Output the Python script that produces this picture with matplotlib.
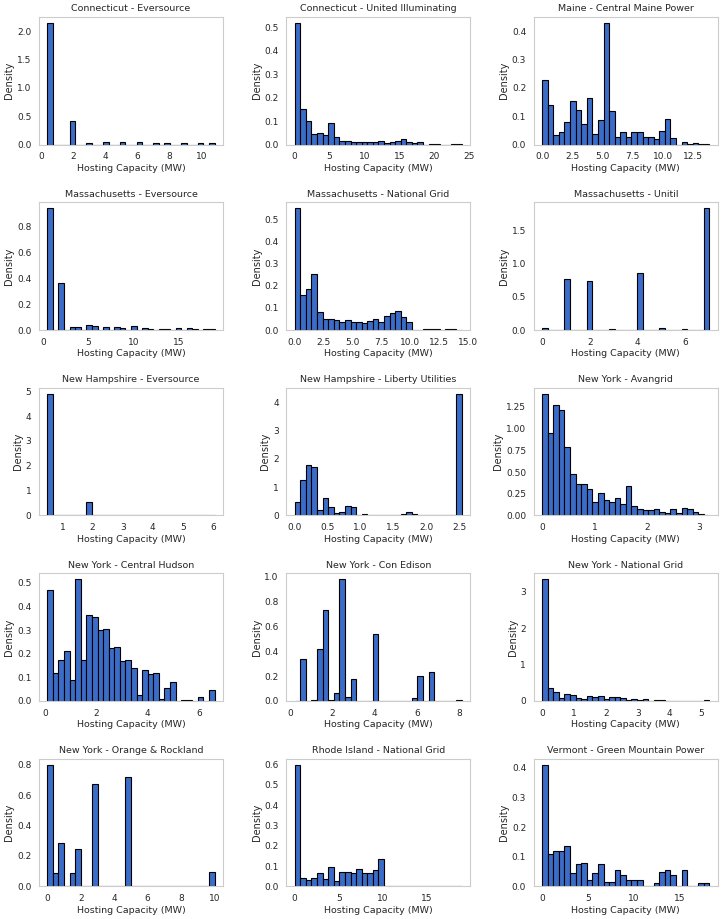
import numpy as np
import matplotlib
matplotlib.use("Agg")
import matplotlib.pyplot as plt
from matplotlib.ticker import MultipleLocator
import seaborn as sns

sns.set_style("whitegrid")
plt.rcParams["font.family"] = ["DejaVu Sans"]

# panel titles (state - utility)
titles = [
    "Connecticut - Eversource", "Connecticut - United Illuminating", "Maine - Central Maine Power",
    "Massachusetts - Eversource", "Massachusetts - National Grid", "Massachusetts - Unitil",
    "New Hampshire - Eversource", "New Hampshire - Liberty Utilities", "New York - Avangrid",
    "New York - Central Hudson", "New York - Con Edison", "New York - National Grid",
    "New York - Orange & Rockland", "Rhode Island - National Grid", "Vermont - Green Mountain Power",
]

# min / max hosting capacity (MW) of each utility -> 30 equal bins
cap_min = [0.4, 0.0, 0.0, 0.5, 0.0, 0.0, 0.5, 0.0, 0.0, 0.1, 0.2, 0.0, 0.0, 0.0, 0.0]
cap_max = [10.8, 24.0, 13.9, 19.0, 14.5, 7.0, 6.05, 2.54, 3.2, 6.6, 8.15, 5.25, 10.0, 19.0, 18.2]

# x tick spacing per panel
x_step = [2, 5, 2.5, 5, 2.5, 2, 1, 0.5, 1, 2, 2, 1, 2, 5, 5]

# density per bin
ct_eversource = [2.15, 0, 0, 0, 0.42, 0, 0, 0.035, 0, 0, 0.04, 0, 0, 0.04, 0,
                 0, 0.04, 0, 0, 0.035, 0, 0.035, 0, 0, 0.03, 0, 0, 0.035, 0, 0.03]
ct_ui = [0.52, 0.153, 0.10, 0.045, 0.05, 0.04, 0.093, 0.032, 0.015, 0.015,
         0.012, 0.01, 0.012, 0.012, 0.013, 0.015, 0.008, 0.01, 0.015, 0.022,
         0.01, 0.005, 0.012, 0.0, 0.002, 0.001, 0.0, 0.0, 0.001, 0.002]
me_cmp = [0.228, 0.14, 0.035, 0.045, 0.08, 0.155, 0.123, 0.072, 0.163, 0.037,
          0.085, 0.43, 0.118, 0.025, 0.045, 0.025, 0.045, 0.045, 0.028, 0.027,
          0.02, 0.048, 0.09, 0.022, 0.0, 0.01, 0.002, 0.005, 0.002, 0.001]
ma_eversource = [0.94, 0, 0.365, 0, 0.025, 0.025, 0, 0.04, 0.028, 0,
                 0.025, 0, 0.022, 0.018, 0, 0.03, 0, 0.015, 0.01, 0,
                 0.008, 0.008, 0, 0.015, 0, 0.018, 0.008, 0, 0.01, 0.008]
ma_ngrid = [0.55, 0.16, 0.185, 0.255, 0.08, 0.052, 0.048, 0.045, 0.038, 0.045,
            0.035, 0.038, 0.03, 0.04, 0.05, 0.038, 0.062, 0.078, 0.088, 0.06,
            0.038, 0.002, 0.0, 0.003, 0.003, 0.003, 0.0, 0.003, 0.003, 0.002]
ma_unitil = [0.03, 0, 0, 0, 0.76, 0, 0, 0, 0.73, 0, 0, 0, 0.02, 0, 0,
             0, 0, 0.85, 0, 0, 0, 0.03, 0, 0, 0, 0.015, 0, 0, 0, 1.83]
nh_eversource = [4.9, 0, 0, 0, 0, 0, 0, 0.55, 0, 0, 0, 0, 0.01, 0, 0,
                 0, 0, 0.01, 0, 0, 0, 0, 0.01, 0, 0, 0, 0, 0, 0, 0.02]
nh_liberty = [0.48, 1.25, 1.8, 1.7, 0.2, 0.62, 0.3, 0.1, 0.13, 0.33,
              0.3, 0.0, 0.06, 0.01, 0.0, 0.0, 0.0, 0.0, 0.03, 0.05,
              0.12, 0.06, 0.0, 0.0, 0.01, 0.0, 0.0, 0.01, 0.01, 4.3]
ny_avangrid = [1.4, 0.95, 1.27, 1.21, 0.79, 0.48, 0.36, 0.36, 0.31, 0.15,
               0.26, 0.18, 0.16, 0.2, 0.13, 0.34, 0.11, 0.08, 0.06, 0.06,
               0.08, 0.04, 0.03, 0.07, 0.03, 0.09, 0.07, 0.04, 0.02, 0.01]
ny_hudson = [0.47, 0.12, 0.175, 0.21, 0.09, 0.515, 0.175, 0.365, 0.355, 0.3,
             0.305, 0.225, 0.228, 0.17, 0.175, 0.14, 0.025, 0.13, 0.115, 0.12,
             0.01, 0.055, 0.08, 0.0, 0.005, 0.005, 0.0, 0.015, 0.0, 0.045]
ny_conedison = [0.002, 0.34, 0, 0.008, 0.42, 0.73, 0.01, 0.06, 0.98, 0.03,
                0.175, 0, 0, 0.003, 0.54, 0, 0, 0, 0, 0,
                0, 0.02, 0.2, 0, 0.235, 0, 0, 0, 0, 0.005]
ny_ngrid = [3.35, 0.35, 0.25, 0.08, 0.18, 0.16, 0.09, 0.05, 0.13, 0.1,
            0.13, 0.04, 0.11, 0.1, 0.08, 0.03, 0.04, 0.03, 0.04, 0.01,
            0.015, 0.02, 0.005, 0.005, 0.008, 0.005, 0.005, 0.003, 0.005, 0.03]
ny_orange = [0.8, 0.09, 0.285, 0, 0.085, 0.245, 0, 0, 0.67, 0,
             0, 0, 0, 0, 0.72, 0, 0, 0, 0, 0,
             0, 0, 0, 0, 0, 0, 0, 0, 0, 0.095]
ri_ngrid = [0.6, 0.04, 0.03, 0.04, 0.065, 0.035, 0.097, 0.028, 0.07, 0.072,
            0.065, 0.087, 0.065, 0.067, 0.082, 0.135, 0.001, 0.001, 0.001, 0.001,
            0.001, 0.0, 0.001, 0.001, 0.0, 0.001, 0.0, 0.001, 0.0, 0.001]
vt_gmp = [0.41, 0.11, 0.12, 0.12, 0.135, 0.045, 0.075, 0.08, 0.02, 0.045,
          0.075, 0.015, 0.015, 0.055, 0.04, 0.02, 0.02, 0.02, 0, 0,
          0.01, 0.05, 0.055, 0.04, 0, 0.055, 0, 0, 0.01, 0.01]

densities = [ct_eversource, ct_ui, me_cmp, ma_eversource, ma_ngrid, ma_unitil,
             nh_eversource, nh_liberty, ny_avangrid, ny_hudson, ny_conedison, ny_ngrid,
             ny_orange, ri_ngrid, vt_gmp]

fig, axes = plt.subplots(5, 3, figsize=(7.22, 9.19), dpi=100)

for ax, title, lo, hi, step, dens in zip(axes.flat, titles, cap_min, cap_max, x_step, densities):
    edges = np.linspace(lo, hi, len(dens) + 1)
    centers = (edges[:-1] + edges[1:]) / 2
    ax.hist(centers, bins=edges, weights=dens, color="#3b6cc7", edgecolor="black", linewidth=0.8)
    ax.xaxis.set_major_locator(MultipleLocator(step))
    ax.set_title(title, fontsize=6.8, pad=4)
    ax.set_xlabel("Hosting Capacity (MW)", fontsize=6.8, labelpad=2)
    ax.set_ylabel("Density", fontsize=7.0, labelpad=2)
    ax.tick_params(labelsize=6.5, pad=2)
    ax.grid(False)
    for s in ax.spines.values():
        s.set_color("#cccccc")

plt.tight_layout(pad=0.3, h_pad=1.2, w_pad=1.5)
plt.savefig("out.png", dpi=100)
